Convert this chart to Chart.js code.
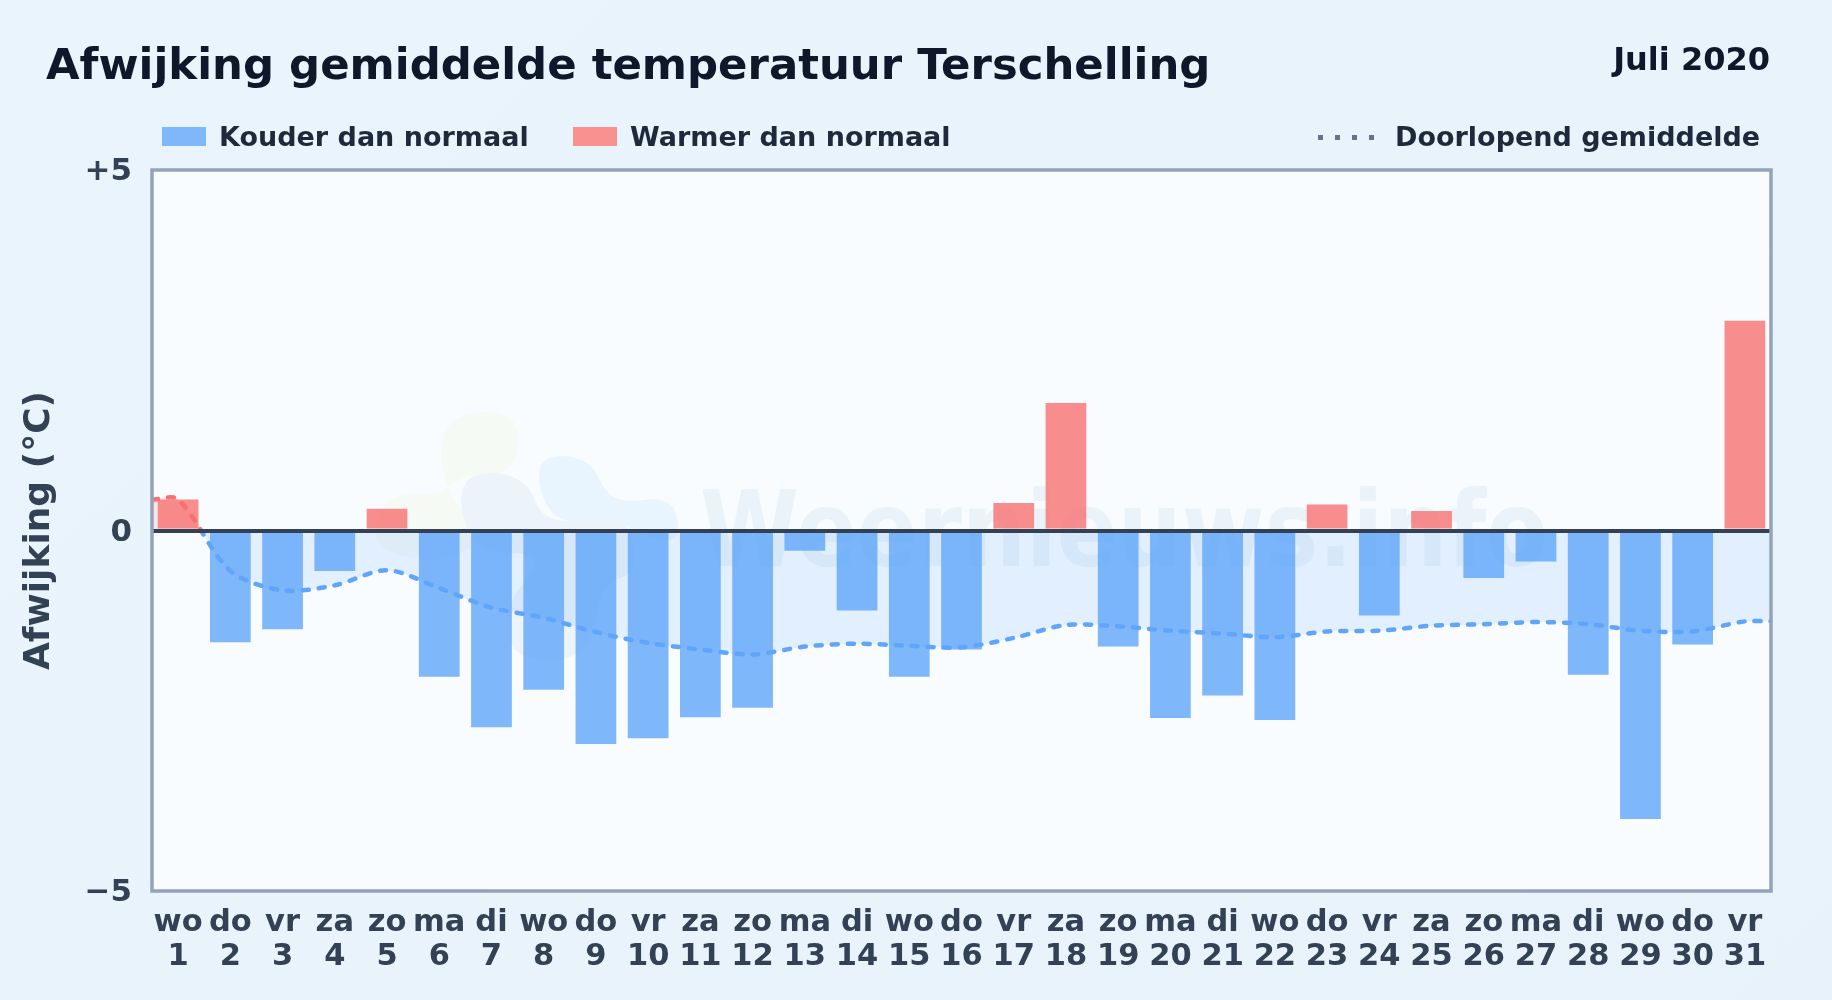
<!DOCTYPE html>
<html lang="nl">
<head>
<meta charset="utf-8">
<title>Afwijking gemiddelde temperatuur Terschelling</title>
<script src="https://cdn.jsdelivr.net/npm/chart.js@4"></script>
<style>
  html, body { margin: 0; padding: 0; }
  body {
    width: 1832px; height: 1000px; overflow: hidden; position: relative;
    background: linear-gradient(135deg, #e9f4fc, #e7f2fb);
    font-family: "DejaVu Sans", sans-serif; font-weight: bold;
  }
  canvas { position: absolute; left: 0; top: 0; }
  .txt { position: absolute; white-space: nowrap; line-height: 1; }
  #title { left: 46px; top: 43px; font-size: 43.4px; color: #0f172a; }
  #period { right: 62px; top: 43px; font-size: 32px; color: #0f172a; }
  .lbl { top: 123px; font-size: 27px; color: #1e293b; }
  .swatch { position: absolute; top: 127px; width: 44px; height: 19px; }
  #dots {
    position: absolute; left: 1318px; top: 135px; width: 56px; height: 5px;
    background: repeating-linear-gradient(90deg, #64748b 0 5px, transparent 5px 17px);
  }
</style>
</head>
<body>
<canvas id="chart" width="1832" height="1000"></canvas>
<div class="txt" id="title">Afwijking gemiddelde temperatuur Terschelling</div>
<div class="txt" id="period">Juli 2020</div>
<div class="swatch" style="left:162px;background:#80b7fb"></div>
<div class="txt lbl" style="left:219px">Kouder dan normaal</div>
<div class="swatch" style="left:573px;background:#f99191"></div>
<div class="txt lbl" style="left:630px">Warmer dan normaal</div>
<div id="dots"></div>
<div class="txt lbl" style="left:1395px">Doorlopend gemiddelde</div>

<script>
const weekdays = ["wo","do","vr","za","zo","ma","di","wo","do","vr","za","zo","ma","di","wo","do","vr","za","zo","ma","di","wo","do","vr","za","zo","ma","di","wo","do","vr"];
const days = [1,2,3,4,5,6,7,8,9,10,11,12,13,14,15,16,17,18,19,20,21,22,23,24,25,26,27,28,29,30,31];
const deviation = [0.43,-1.55,-1.37,-0.56,0.30,-2.03,-2.73,-2.21,-2.96,-2.88,-2.59,-2.46,-0.28,-1.11,-2.03,-1.65,0.38,1.77,-1.61,-2.60,-2.29,-2.63,0.36,-1.18,0.27,-0.66,-0.43,-2.00,-4.00,-1.58,2.91];
const runningAvg = [0.43,-0.56,-0.83,-0.76,-0.55,-0.80,-1.07,-1.21,-1.41,-1.56,-1.65,-1.72,-1.61,-1.57,-1.60,-1.62,-1.49,-1.31,-1.33,-1.39,-1.43,-1.48,-1.40,-1.39,-1.32,-1.30,-1.27,-1.30,-1.39,-1.40,-1.26];
const yTicks = [-5, 0, 5];

const ink = "#334155";

// the running mean runs on from edge to edge of the plot
const avgPoints = days.map((d, i) => ({ x: d, y: runningAvg[i] }));
avgPoints.unshift({ x: 0.5, y: runningAvg[0] });
avgPoints.push({ x: 31.5, y: runningAvg[runningAvg.length - 1] });

// faint site logo behind the bars
function blob(ctx, pts, color) {
  ctx.beginPath();
  const n = pts.length;
  ctx.moveTo((pts[n - 1][0] + pts[0][0]) / 2, (pts[n - 1][1] + pts[0][1]) / 2);
  pts.forEach((p, i) => {
    const q = pts[(i + 1) % n];
    ctx.quadraticCurveTo(p[0], p[1], (p[0] + q[0]) / 2, (p[1] + q[1]) / 2);
  });
  ctx.closePath();
  ctx.fillStyle = color;
  ctx.fill();
}

const backdrop = {
  id: "backdrop",
  beforeDraw(chart) {
    const { ctx, chartArea: a } = chart;
    ctx.save();
    ctx.fillStyle = "#f8fcff";
    ctx.fillRect(a.left, a.top, a.width, a.height);
    blob(ctx, [[443,414],[520,410],[516,474],[465,474],[440,494],[385,494],[370,548],[430,563],[490,544],[440,484]], "#f5faf5");
    blob(ctx, [[455,473],[525,473],[545,528],[625,508],[640,573],[600,583],[590,660],[510,660],[505,603],[550,553],[470,553]], "#ecf3fa");
    blob(ctx, [[532,456],[590,456],[610,505],[675,495],[680,545],[640,535],[610,515],[550,525]], "#e9f5fe");
    ctx.font = 'bold 105px "DejaVu Sans"';
    ctx.fillStyle = "rgba(120,165,210,0.10)";
    ctx.textBaseline = "alphabetic";
    ctx.fillText("Weernieuws.info", 700, 566, 848);
    ctx.restore();
  },
  afterDraw(chart) {
    const { ctx, chartArea: a } = chart;
    ctx.save();
    ctx.strokeStyle = "#94a3b8";
    ctx.lineWidth = 3.5;
    ctx.strokeRect(a.left, a.top, a.width, a.height);
    ctx.restore();
  },
};

// red above zero, blue below
function avgColor(c) {
  const { chart } = c;
  if (!chart.chartArea) return "#60a5fa";
  const { top, bottom } = chart.chartArea;
  const z = (chart.scales.y.getPixelForValue(0) - top) / (bottom - top);
  const g = chart.ctx.createLinearGradient(0, top, 0, bottom);
  g.addColorStop(0, "#f87171");
  g.addColorStop(z, "#f87171");
  g.addColorStop(z, "#60a5fa");
  g.addColorStop(1, "#60a5fa");
  return g;
}

new Chart(document.getElementById("chart"), {
  data: {
    labels: days.map((d, i) => [weekdays[i], String(d)]),
    datasets: [
      {
        type: "line",
        label: "Doorlopend gemiddelde",
        data: avgPoints,
        xAxisID: "xLine",
        order: 0,
        borderColor: avgColor,
        borderWidth: 4.5,
        borderDash: [6, 10],
        borderCapStyle: "round",
        pointRadius: 0,
        tension: 0.3,
        fill: {
          target: { value: 0 },
          above: "rgba(248,113,113,0.15)",
          below: "rgba(96,165,250,0.15)",
        },
      },
      {
        type: "bar",
        label: "Afwijking",
        data: deviation,
        order: 1,
        grouped: false,
        backgroundColor: deviation.map((v) => (v < 0 ? "rgba(96,165,250,0.8)" : "rgba(248,113,113,0.8)")),
        barPercentage: 0.78,
        categoryPercentage: 1,
      },
    ],
  },
  options: {
    responsive: false,
    devicePixelRatio: 1,
    animation: false,
    layout: { autoPadding: false, padding: { top: 170, right: 61, bottom: 0, left: 0 } },
    plugins: { legend: { display: false }, tooltip: { enabled: false } },
    scales: {
      x: {
        offset: true,
        border: { display: false },
        grid: { display: false },
        ticks: {
          autoSkip: false,
          maxRotation: 0,
          padding: 7,
          color: ink,
          font: { family: "DejaVu Sans", weight: "bold", size: 30.5, lineHeight: "34px" },
        },
        afterFit(scale) { scale.height = 109; },
      },
      xLine: { type: "linear", min: 0.5, max: 31.5, display: false },
      y: {
        min: -5,
        max: 5,
        border: { display: false },
        grid: {
          z: 1,
          drawTicks: false,
          lineWidth: 4,
          color: (c) => (c.tick.value === 0 ? ink : "transparent"),
        },
        afterBuildTicks(scale) { scale.ticks = yTicks.map((v) => ({ value: v })); },
        ticks: {
          padding: 20,
          color: ink,
          font: { family: "DejaVu Sans", weight: "bold", size: 31, lineHeight: "4px" },
          // empty first line nudges the label 2px down onto its tick
          callback: (v) => ["", v > 0 ? "+" + v : v < 0 ? "\u2212" + Math.abs(v) : "0"],
        },
        title: {
          display: true,
          text: "Afwijking (°C)",
          color: ink,
          font: { family: "DejaVu Sans", weight: "bold", size: 36 },
          padding: { top: 18, bottom: 0 },
        },
        afterFit(scale) { scale.width = 152; },
      },
    },
  },
  plugins: [backdrop],
});
</script>
</body>
</html>
